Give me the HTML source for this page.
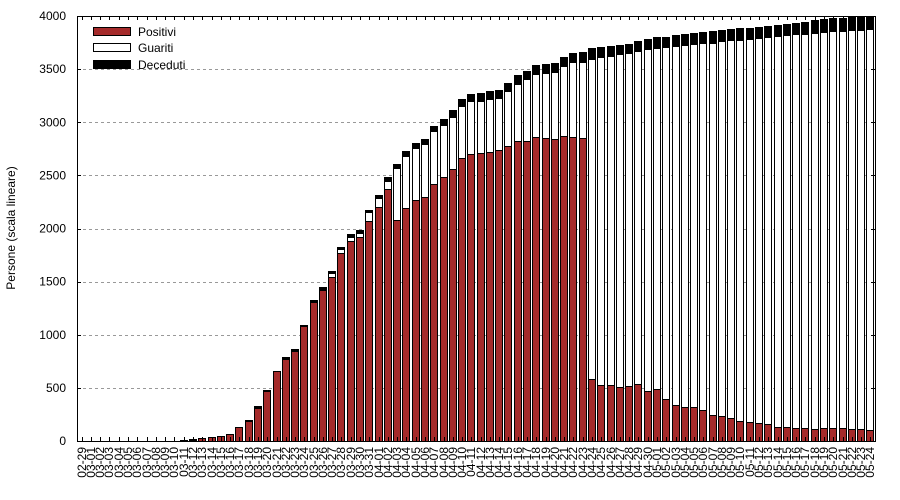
<!DOCTYPE html>
<html><head><meta charset="utf-8"><style>
html,body{margin:0;padding:0;background:#fff;}
svg{display:block;font-family:"Liberation Sans",sans-serif;}
</style></head><body>
<svg id="chart" width="900" height="500" viewBox="0 0 900 500" xmlns="http://www.w3.org/2000/svg">
<g id="grid"></g>
<g id="bars"></g>
<g id="axes"></g>
<text transform="translate(15,228) rotate(-90)" text-anchor="middle" font-size="12">Persone (scala lineare)</text>
<g>
<g><rect x="93.5" y="27.5" width="37" height="8" fill="#a52a2a" stroke="#000"/><text x="138" y="36" font-size="12">Positivi</text></g>
<g><rect x="93.5" y="43.5" width="37" height="8" fill="#fff" stroke="#000"/><text x="138" y="52" font-size="12">Guariti</text></g>
<g><rect x="93.5" y="60.5" width="37" height="8" fill="#000" stroke="#000"/><text x="138" y="69" font-size="12">Deceduti</text></g>
</g>
</svg>
<script>
const positivi = [0,0,0,0,0,0,0,0,0,0,3,8,12,26,35,43,64,130,189,314,468,655,769,850,1079,1305,1424,1540,1766,1879,1917,2068,2199,2369,2077,2190,2265,2294,2416,2482,2557,2661,2698,2708,2720,2736,2773,2820,2820,2858,2848,2839,2867,2858,2848,583,527,527,505,518,533,471,486,392,339,317,317,292,245,235,213,188,179,166,157,135,129,119,119,110,119,119,119,113,113,100];
const guariti = [0,0,0,0,0,0,0,0,0,0,0,0,0,0,0,0,0,0,0,0,0,0,0,0,0,0,0,38,38,38,37,85,91,81,496,496,496,498,505,495,496,495,506,496,496,495,524,543,583,599,619,637,665,712,722,3015,3090,3100,3134,3131,3141,3215,3216,3319,3382,3407,3423,3457,3504,3533,3561,3589,3601,3630,3648,3680,3692,3715,3715,3733,3734,3743,3743,3758,3758,3774];
const deceduti = [0,0,0,0,0,0,0,0,0,0,0,0,3,2,2,2,2,2,9,12,12,7,22,16,13,22,25,22,22,31,32,21,22,32,31,43,44,46,44,50,58,63,59,68,75,69,72,78,76,82,78,78,78,78,87,98,94,94,91,91,91,98,97,94,97,107,100,100,110,100,104,107,107,100,104,103,107,103,110,119,119,119,122,126,126,136];
const yTicks = [0,500,1000,1500,2000,2500,3000,3500,4000];
const startDate = [2,29];

const NS = "http://www.w3.org/2000/svg";
const L = 77, R = 875, T = 16, B = 441, YMAX = 4000;
const n = positivi.length;
const step = (R - L) / n;
function x(i){ return L + step * (i + 0.5); }
function y(v){ return B - (Math.min(v, YMAX) / YMAX) * (B - T); }
function mk(tag, attrs, parent){ const e = document.createElementNS(NS, tag); for (const k in attrs) e.setAttribute(k, attrs[k]); parent.appendChild(e); return e; }
function dateLabel(i){
  const md = [0,31,29,31,30,31,30]; let m = startDate[0], d = startDate[1] + i;
  while (d > md[m]) { d -= md[m]; m++; }
  return String(m).padStart(2,'0') + '-' + String(d).padStart(2,'0');
}
const grid = document.getElementById('grid'), bars = document.getElementById('bars'), axes = document.getElementById('axes');
yTicks.forEach(v => {
  const yy = Math.round(y(v)) + 0.5;
  if (v > 0 && v < YMAX) {
    const g = mk('line', {x1:L, x2:R, y1:yy, y2:yy, stroke:'#999', 'stroke-dasharray':'3,3'}, grid);
    
    
  }
  const t = mk('text', {x:66, y:y(v)+4, 'text-anchor':'end', 'font-size':12}, axes);
  t.textContent = v;
  
  
  mk('line', {x1:L, x2:L+4, y1:yy, y2:yy, stroke:'#000'}, axes);
  mk('line', {x1:R-4, x2:R, y1:yy, y2:yy, stroke:'#000'}, axes);
});
const bw = 7;
for (let i = 0; i < n; i++) {
  const cx = Math.round(x(i)) - 3.5;
  const segs = [[positivi[i], '#a52a2a', 'bar-positivi'], [guariti[i], '#fff', 'bar-guariti'], [deceduti[i], '#000', 'bar-deceduti']];
  let base = 0;
  segs.forEach(s => {
    if (s[0] > 0) {
      const y0 = Math.round(y(base)) + 0.5, y1 = Math.round(y(base + s[0])) + 0.5;
      if (y0 - y1 > 0) {
        const r = mk('rect', {x:cx, y:y1, width:bw, height:y0-y1, fill:s[1], stroke:'#000', 'stroke-width':1}, bars);
        
        
      }
    }
    base += s[0];
  });
  const tx = Math.round(x(i)) + 0.5;
  mk('line', {x1:tx, x2:tx, y1:B, y2:B-4, stroke:'#000'}, axes);
  mk('line', {x1:tx, x2:tx, y1:T, y2:T+4, stroke:'#000'}, axes);
  const lab = mk('text', {transform:'translate(' + (Math.round(x(i)) + 4) + ',447) rotate(-90)', 'text-anchor':'end', 'font-size':12}, axes);
  lab.textContent = dateLabel(i);
  
  
}
const frame = mk('rect', {x:L+0.5, y:T+0.5, width:R-L, height:B-T, fill:'none', stroke:'#000'}, axes);


</script>
</body></html>
